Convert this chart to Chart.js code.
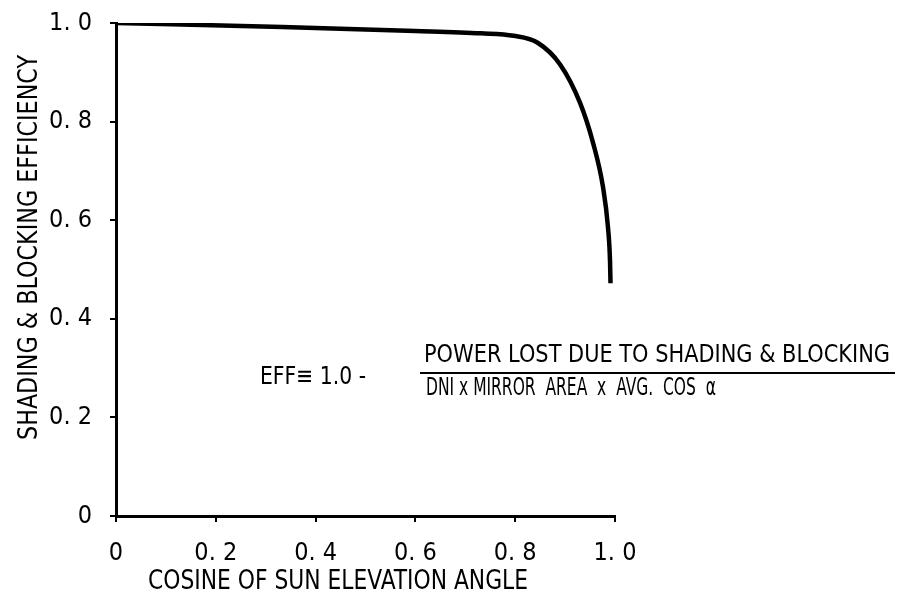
<!DOCTYPE html>
<html>
<head>
<meta charset="utf-8">
<script src="https://cdn.jsdelivr.net/npm/chart.js@4"></script>
<style>
  html, body { margin: 0; padding: 0; background: #fff; }
  #wrap { width: 898px; height: 595px; }
</style>
</head>
<body>
<div id="wrap"><canvas id="c" width="898" height="595"></canvas></div>
<script>
// Shading & blocking efficiency versus cosine of sun elevation angle
const cosElevation = [0, 0.333, 0.60, 0.731, 0.797, 0.845, 0.890, 0.930, 0.956, 0.976, 0.986, 0.990, 0.991];
const efficiency   = [1.0, 0.992, 0.984, 0.979, 0.974, 0.960, 0.916, 0.838, 0.757, 0.667, 0.585, 0.518, 0.472];

const xTickLabels = ['0', '0. 2', '0. 4', '0. 6', '0. 8', '1. 0'];
const yTickLabels = ['0', '0. 2', '0. 4', '0. 6', '0. 8', '1. 0'];

const xTitle = 'COSINE OF SUN ELEVATION ANGLE';
const yTitle = 'SHADING & BLOCKING EFFICIENCY';
const eqLead = 'EFF\u2261 1.0 -';
const eqNumerator = 'POWER LOST DUE TO SHADING & BLOCKING';
const eqDenominator = 'DNI x MIRROR  AREA  x  AVG.  COS  \u03B1';

const FONT = "'Liberation Sans Narrow', 'DejaVu Sans Condensed', 'Liberation Sans', sans-serif";

const points = cosElevation.map((x, i) => ({ x: x, y: efficiency[i] }));

// draw a string starting at x, stretched or squeezed to the given width
function drawFitted(ctx, text, x, y, width) {
  const natural = ctx.measureText(text).width;
  ctx.save();
  ctx.translate(x, y);
  ctx.scale(width / natural, 1);
  ctx.textAlign = 'left';
  ctx.fillText(text, 0, 0);
  ctx.restore();
}

// Axis titles and the efficiency definition drawn as canvas text
const annotations = {
  id: 'annotations',
  afterDraw(chart) {
    const ctx = chart.ctx;
    ctx.save();
    ctx.fillStyle = '#000';
    ctx.strokeStyle = '#000';
    ctx.textBaseline = 'middle';

    // y-axis title
    ctx.save();
    ctx.translate(30, 440);
    ctx.rotate(-Math.PI / 2);
    ctx.font = '27px ' + FONT;
    drawFitted(ctx, yTitle, 0, 0, 385);
    ctx.restore();

    // x-axis title
    ctx.font = '27px ' + FONT;
    drawFitted(ctx, xTitle, 148, 582, 380);

    // efficiency definition
    ctx.font = '25px ' + FONT;
    drawFitted(ctx, eqLead, 260, 377, 106);
    ctx.font = '24px ' + FONT;
    drawFitted(ctx, eqNumerator, 424, 356, 466);
    drawFitted(ctx, eqDenominator, 426, 389, 290);
    ctx.lineWidth = 2;
    ctx.beginPath();
    ctx.moveTo(420, 373);
    ctx.lineTo(895, 373);
    ctx.stroke();
    ctx.restore();
  }
};

new Chart(document.getElementById('c'), {
  type: 'scatter',
  data: {
    datasets: [{
      data: points,
      showLine: true,
      borderColor: '#000',
      borderWidth: 4.5,
      pointRadius: 0,
      cubicInterpolationMode: 'monotone',
      fill: false
    }]
  },
  options: {
    responsive: false,
    animation: false,
    events: [],
    layout: { padding: { left: 0, top: 23, right: 283, bottom: 0 } },
    plugins: {
      legend: { display: false },
      tooltip: { enabled: false }
    },
    scales: {
      x: {
        type: 'linear',
        min: 0,
        max: 1,
        afterFit(scale) {
          scale.height = 79;
          scale.paddingLeft = 0;
          scale.paddingRight = 0;
        },
        border: { display: true, color: '#000', width: 3 },
        grid: { display: true, drawOnChartArea: false, drawTicks: true, tickLength: 6, color: '#000', lineWidth: 2 },
        ticks: {
          stepSize: 0.2,
          padding: 16,
          color: '#000',
          font: { family: FONT, size: 25 },
          maxRotation: 0,
          callback: (v, i) => xTickLabels[i]
        }
      },
      y: {
        type: 'linear',
        min: 0,
        max: 1,
        afterFit(scale) {
          scale.width = 116;
          scale.paddingTop = 0;
          scale.paddingBottom = 0;
        },
        border: { display: true, color: '#000', width: 3 },
        grid: { display: true, drawOnChartArea: false, drawTicks: true, tickLength: 6, color: '#000', lineWidth: 2 },
        ticks: {
          stepSize: 0.2,
          padding: 18,
          color: '#000',
          font: { family: FONT, size: 25 },
          callback: (v, i) => yTickLabels[i]
        }
      }
    }
  },
  plugins: [annotations]
});
</script>
</body>
</html>
